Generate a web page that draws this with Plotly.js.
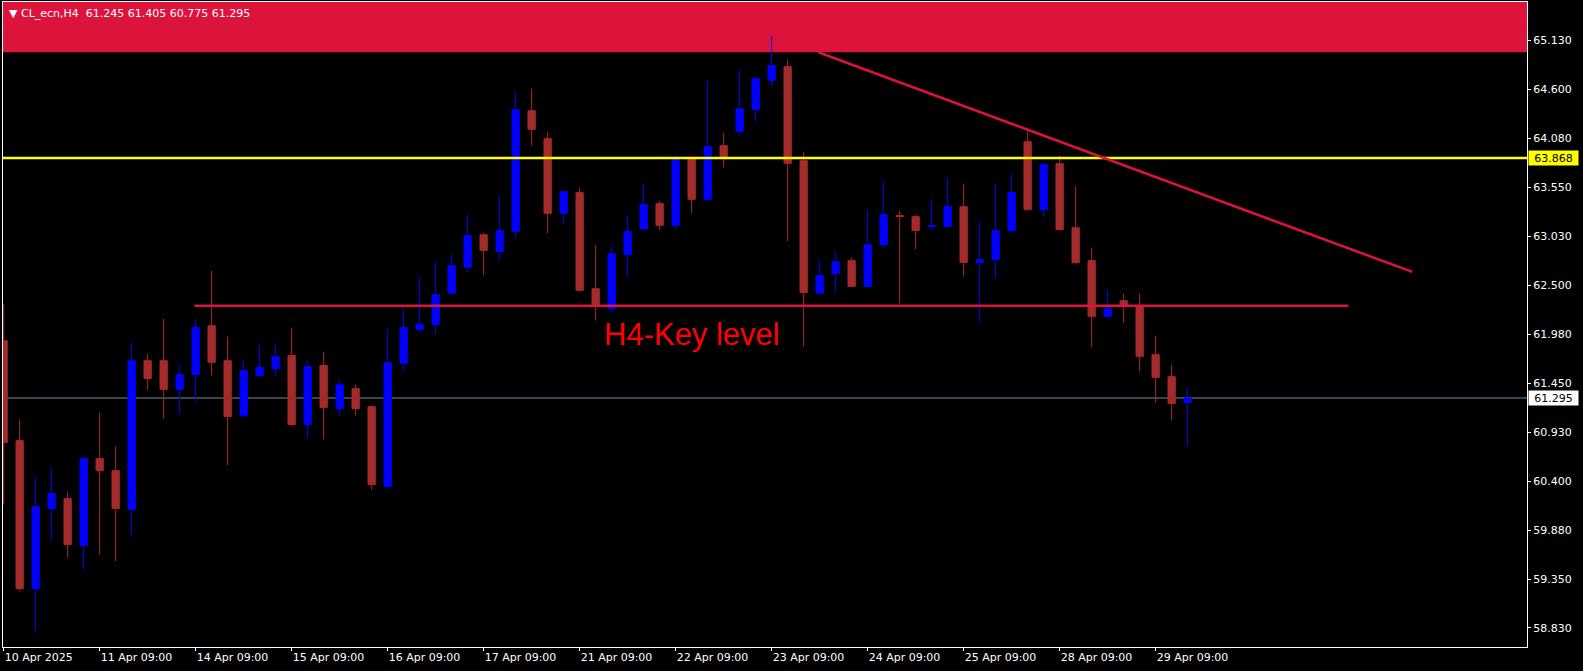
<!DOCTYPE html>
<html><head><meta charset="utf-8">
<script src="https://cdn.plot.ly/plotly-3.0.1.min.js"></script>
<style>html,body{margin:0;padding:0;background:#000;overflow:hidden}#chart{width:1583px;height:671px}</style>
</head><body><div id="chart"></div>
<script>
// ---- data ----
const symbolLabel = "CL_ecn,H4";
const opens  = [61.909,60.838,59.251,60.109,60.216,59.715,60.645,60.516,60.101,61.695,
                61.695,61.387,61.545,62.070,61.695,61.109,61.537,61.609,61.752,61.009,
                61.645,61.180,61.395,61.202,60.345,61.666,62.030,62.081,62.416,62.695,
                63.045,62.866,63.081,64.374,64.074,63.274,63.496,62.467,62.252,62.831,
                63.106,63.378,63.145,63.857,63.424,63.999,64.153,64.388,64.699,64.846,
                63.838,62.416,62.631,62.767,62.491,62.938,63.252,63.238,63.131,63.131,
                63.345,62.748,62.781,63.088,64.042,63.313,63.806,63.120,62.767,62.170,
                62.338,62.284,61.759,61.523,61.245];
const highs  = [62.306,61.063,60.452,60.551,60.291,60.669,61.141,60.776,61.888,61.770,
                62.145,61.652,62.145,62.660,61.952,61.695,61.866,61.866,62.049,61.695,
                61.791,61.491,61.438,61.216,62.038,62.252,62.595,62.756,62.842,63.260,
                63.067,63.463,64.578,64.610,64.149,63.506,63.549,62.938,62.917,63.249,
                63.592,63.410,63.903,63.881,64.707,64.139,64.817,64.739,65.178,64.921,
                63.935,62.767,62.863,62.802,63.313,63.624,63.303,63.260,63.420,63.660,
                63.592,63.195,63.592,63.702,64.160,63.817,63.892,63.571,62.906,62.456,
                62.413,62.413,61.963,61.652,61.405];
const lows   = [60.151,59.222,58.794,59.766,59.587,59.458,59.616,59.544,59.823,61.377,
                61.073,61.127,61.248,61.537,60.573,61.087,61.516,61.537,60.998,60.859,
                60.851,61.105,61.105,60.312,60.323,61.580,61.995,61.974,62.406,62.641,
                62.609,62.770,63.006,64.002,63.059,63.156,62.438,62.124,62.213,62.588,
                63.102,63.091,63.102,63.274,63.402,63.767,64.110,64.260,64.635,62.974,
                61.848,62.416,62.424,62.491,62.491,62.899,62.309,62.888,63.091,63.131,
                62.598,62.099,62.577,63.064,63.306,63.238,63.099,62.735,61.837,62.148,
                62.102,61.580,61.245,61.055,60.775];
const closes = [60.819,59.251,60.130,60.273,59.723,60.645,60.516,60.109,61.695,61.502,
                61.387,61.545,62.049,61.677,61.095,61.588,61.623,61.738,61.009,61.631,
                61.194,61.438,61.180,60.366,61.673,62.049,62.081,62.402,62.713,63.035,
                62.877,63.088,64.385,64.174,63.274,63.506,62.448,62.284,62.842,63.077,
                63.367,63.145,63.860,63.424,63.989,63.881,64.396,64.717,64.857,63.810,
                62.424,62.606,62.756,62.491,62.938,63.260,63.238,63.091,63.142,63.345,
                62.748,62.777,63.088,63.496,63.313,63.796,63.099,62.745,62.170,62.252,
                62.284,61.741,61.516,61.237,61.295];
const dateTickBars   = [0, 6, 12, 18, 24, 30, 36, 42, 48, 54, 60, 66, 72];
const dateTickLabels = ["10 Apr 2025","11 Apr 09:00","14 Apr 09:00","15 Apr 09:00","16 Apr 09:00",
                        "17 Apr 09:00","21 Apr 09:00","22 Apr 09:00","23 Apr 09:00","24 Apr 09:00",
                        "25 Apr 09:00","28 Apr 09:00","29 Apr 09:00"];
const priceTicks = [58.830,59.350,59.880,60.400,60.930,61.450,61.980,62.500,63.030,63.550,64.080,64.600,65.130];
const resistanceLevel = 63.868;
const keyLevel = 62.284, keyLevelFromBar = 11.92, keyLevelToBar = 84.04;
const trendFrom = {bar: 50.92, price: 65.0}, trendTo = {bar: 88.04, price: 62.646};
const supplyZoneLow = 65.0, supplyZoneHigh = 66.0;
const keyLevelText = "H4-Key level", keyTextBar = 43.0, keyTextPrice = 61.973;

// ---- chart ----
const bars = opens.map((_, i) => i);
const last = opens.length - 1;
const lastPrice = closes[last];
const fmt = v => v.toFixed(3);
const headerText = "\u25BC\u00A0" + symbolLabel + "\u00A0\u00A0" +
  [opens[last], highs[last], lows[last], closes[last]].map(fmt).join(" ");

const smallFont = {family: "DejaVu Sans, Verdana, sans-serif", size: 11, color: "#FFFFFF"};

const trace = {
  type: "candlestick", x: bars, open: opens, high: highs, low: lows, close: closes,
  increasing: {line: {color: "#0000FF", width: 1}, fillcolor: "#0000FF"},
  decreasing: {line: {color: "#A52A2A", width: 1}, fillcolor: "#A52A2A"},
  whiskerwidth: 0, hoverinfo: "skip", showlegend: false
};

const layout = {
  width: 1583, height: 671,
  margin: {l: 3, r: 56, t: 2, b: 24},
  paper_bgcolor: "#000000", plot_bgcolor: "#000000",
  boxgap: 0.35, showlegend: false,
  font: smallFont,
  xaxis: {
    range: [-0.04, 95.21], rangeslider: {visible: false},
    tickvals: dateTickBars, ticktext: dateTickLabels, ticklabelposition: "outside right",
    ticks: "outside", ticklen: 3, tickcolor: "#FFFFFF", tickfont: smallFont,
    showgrid: false, zeroline: false, showline: true, mirror: true, linecolor: "#FFFFFF", linewidth: 1,
    fixedrange: true
  },
  yaxis: {
    range: [58.626, 65.539], side: "right",
    tickvals: priceTicks, ticktext: priceTicks.map(fmt),
    ticks: "outside", ticklen: 3, tickcolor: "#FFFFFF", tickfont: smallFont,
    showgrid: false, zeroline: false, showline: true, mirror: true, linecolor: "#FFFFFF", linewidth: 1,
    fixedrange: true
  },
  shapes: [
    {type: "rect", layer: "below", xref: "paper", x0: 0, x1: 1, yref: "y", y0: supplyZoneLow, y1: supplyZoneHigh,
     fillcolor: "#DC143C", line: {width: 0}},
    {type: "line", layer: "below", xref: "paper", x0: 0, x1: 1, yref: "y", y0: lastPrice, y1: lastPrice,
     line: {color: "#778899", width: 1}},
    {type: "line", layer: "above", xref: "paper", x0: 0, x1: 1, yref: "y", y0: resistanceLevel, y1: resistanceLevel,
     line: {color: "#FFFF00", width: 2.5}},
    {type: "line", layer: "above", xref: "x", x0: keyLevelFromBar, x1: keyLevelToBar, yref: "y", y0: keyLevel, y1: keyLevel,
     line: {color: "#DC143C", width: 2.5}},
    {type: "line", layer: "above", xref: "x", x0: trendFrom.bar, x1: trendTo.bar, yref: "y", y0: trendFrom.price, y1: trendTo.price,
     line: {color: "#DC143C", width: 2.5}}
  ],
  annotations: [
    {xref: "paper", x: 0, xanchor: "left", xshift: 4, yref: "paper", y: 1, yanchor: "top", yshift: -3,
     text: headerText, showarrow: false, font: smallFont},
    {xref: "x", x: keyTextBar, yref: "y", y: keyTextPrice, text: keyLevelText, showarrow: false,
     xanchor: "center", yanchor: "middle", font: {family: "Liberation Sans, Arial, sans-serif", size: 31, color: "#FF0000"}},
    {xref: "paper", x: 1, xanchor: "left", xshift: 1, yref: "y", y: resistanceLevel, yanchor: "middle",
     text: fmt(resistanceLevel), showarrow: false, bgcolor: "#FFFF00", width: 47, height: 12, borderpad: 1,
     font: {family: smallFont.family, size: 11, color: "#000000"}},
    {xref: "paper", x: 1, xanchor: "left", xshift: 1, yref: "y", y: lastPrice, yanchor: "middle",
     text: fmt(lastPrice), showarrow: false, bgcolor: "#FFFFFF", width: 47, height: 12, borderpad: 1,
     font: {family: smallFont.family, size: 11, color: "#000000"}}
  ]
};

Plotly.newPlot("chart", [trace], layout, {displayModeBar: false, staticPlot: true});
</script>
</body></html>
